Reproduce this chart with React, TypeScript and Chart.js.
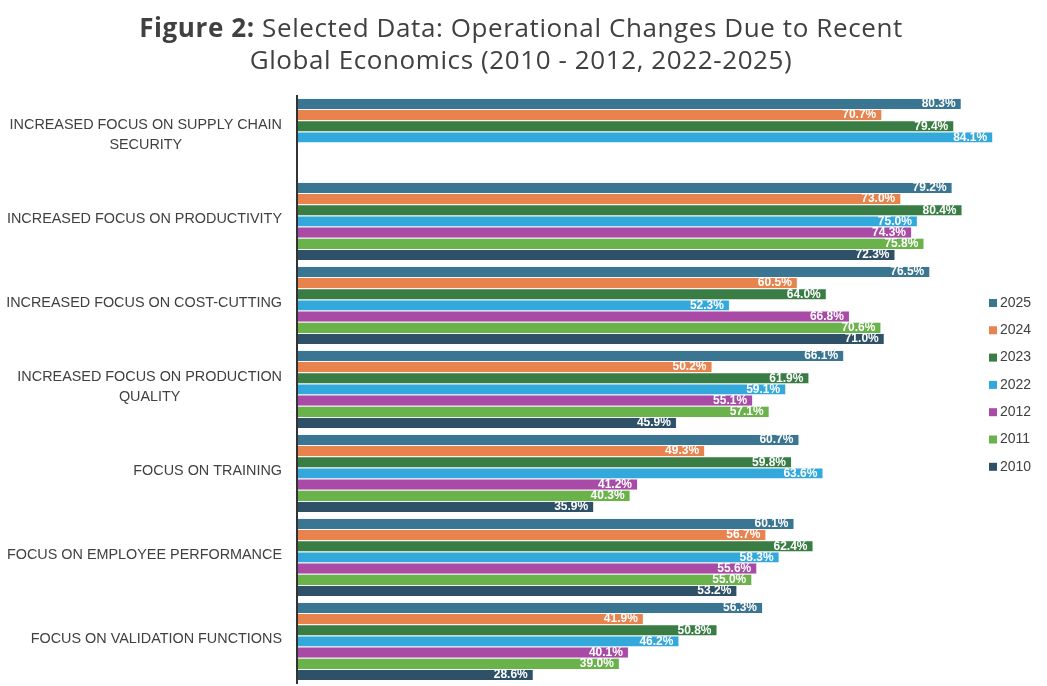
import React, { useEffect, useRef } from "react";
import { Chart, registerables } from "chart.js";

Chart.register(...registerables);

const categories: string[][] = [
  ["INCREASED FOCUS ON SUPPLY CHAIN", "SECURITY"],
  ["INCREASED FOCUS ON PRODUCTIVITY"],
  ["INCREASED FOCUS ON COST-CUTTING"],
  ["INCREASED FOCUS ON PRODUCTION", "QUALITY"],
  ["FOCUS ON TRAINING"],
  ["FOCUS ON EMPLOYEE PERFORMANCE"],
  ["FOCUS ON VALIDATION FUNCTIONS"],
];

const years = ["2025", "2024", "2023", "2022", "2012", "2011", "2010"];

const v2025 = [80.3, 79.2, 76.5, 66.1, 60.7, 60.1, 56.3];
const v2024 = [70.7, 73.0, 60.5, 50.2, 49.3, 56.7, 41.9];
const v2023 = [79.4, 80.4, 64.0, 61.9, 59.8, 62.4, 50.8];
const v2022 = [84.1, 75.0, 52.3, 59.1, 63.6, 58.3, 46.2];
const v2012 = [null, 74.3, 66.8, 55.1, 41.2, 55.6, 40.1];
const v2011 = [null, 75.8, 70.6, 57.1, 40.3, 55.0, 39.0];
const v2010 = [null, 72.3, 71.0, 45.9, 35.9, 53.2, 28.6];

const seriesValues = [v2025, v2024, v2023, v2022, v2012, v2011, v2010];

const colors = ["#3A7592", "#E9834E", "#3A7D44", "#33A8DB", "#A94BA6", "#6AB24A", "#2F5168"];

const FONT = "'Liberation Sans', Arial, sans-serif";
const TITLE_FONT = "'Open Sans', 'Liberation Sans', sans-serif";
const TEXT_COLOR = "#404040";

const categoryLabelPlugin = {
  id: "categoryLabels",
  afterDraw(chart: any) {
    const ctx = chart.ctx;
    const yScale = chart.scales.y;
    const right = chart.chartArea.left - 15;
    ctx.save();
    ctx.font = `14.4px ${FONT}`;
    ctx.fillStyle = TEXT_COLOR;
    ctx.textBaseline = "middle";
    ctx.textAlign = "center";
    const lh = 20;
    categories.forEach((lines, i) => {
      const yc = yScale.getPixelForValue(i) - 2;
      const maxW = Math.max(...lines.map((l) => ctx.measureText(l).width));
      const cx = right - maxW / 2;
      const y0 = yc - ((lines.length - 1) * lh) / 2;
      lines.forEach((l, j) => ctx.fillText(l, cx, y0 + j * lh));
    });
    ctx.restore();
  },
};

const dataLabelPlugin = {
  id: "dataLabels",
  afterDatasetsDraw(chart: any) {
    const ctx = chart.ctx;
    ctx.save();
    // axis line drawn over the bars' start
    const ca = chart.chartArea;
    ctx.strokeStyle = "#333333";
    ctx.lineWidth = 2;
    ctx.beginPath();
    ctx.moveTo(ca.left, ca.top);
    ctx.lineTo(ca.left, ca.bottom + 1);
    ctx.stroke();

    ctx.font = `bold 12px ${FONT}`;
    ctx.fillStyle = "#ffffff";
    ctx.textAlign = "right";
    ctx.textBaseline = "middle";
    chart.data.datasets.forEach((ds: any, di: number) => {
      const meta = chart.getDatasetMeta(di);
      meta.data.forEach((bar: any, i: number) => {
        const v = ds.data[i];
        if (v == null) return;
        ctx.fillText(v.toFixed(1) + "%", bar.x - 6, bar.y + 0.5);
      });
    });
    ctx.restore();
  },
};

const legendPlugin = {
  id: "customLegend",
  afterDraw(chart: any) {
    const ctx = chart.ctx;
    ctx.save();
    ctx.font = `14px ${FONT}`;
    ctx.textBaseline = "middle";
    ctx.textAlign = "left";
    const x = 989;
    const y0 = 303;
    const step = 27.3;
    chart.data.datasets.forEach((ds: any, i: number) => {
      const y = y0 + i * step;
      ctx.fillStyle = ds.backgroundColor;
      ctx.fillRect(x, y - 4, 8, 8);
      ctx.fillStyle = TEXT_COLOR;
      ctx.fillText(ds.label, x + 11, y);
    });
    ctx.restore();
  },
};

export default function App() {
  const canvasRef = useRef<HTMLCanvasElement | null>(null);

  useEffect(() => {
    if (!canvasRef.current) return;
    const chart = new Chart(canvasRef.current, {
      type: "bar",
      data: {
        labels: categories.map((c) => c.join(" ")),
        datasets: years.map((y, i) => ({
          label: y,
          data: seriesValues[i] as any,
          backgroundColor: colors[i],
          borderColor: "#F4F8FA",
          borderWidth: { top: 1, bottom: 0, left: 0, right: 1 },
          borderSkipped: false,
          categoryPercentage: 0.93,
          barPercentage: 1,
        })),
      },
      options: {
        indexAxis: "y",
        responsive: true,
        maintainAspectRatio: false,
        animation: false,
        layout: { padding: { top: 95, bottom: 3, left: 0, right: 5 } },
        plugins: {
          legend: { display: false },
          tooltip: { enabled: false },
          title: { display: false },
        },
        scales: {
          x: { display: false, min: 0, max: 90 },
          y: {
            display: true,
            ticks: { display: false },
            grid: { display: false },
            border: { display: false },
            afterFit(scale: any) {
              scale.width = 297;
            },
          },
        },
      },
      plugins: [categoryLabelPlugin, dataLabelPlugin, legendPlugin],
    });
    return () => chart.destroy();
  }, []);

  return (
    <div style={{ position: "absolute", left: 0, top: 0, width: 1047, height: 686, background: "#fff" }}>
      <canvas ref={canvasRef} />
      <div
        style={{
          position: "absolute",
          left: 0,
          top: 11,
          width: 1042,
          textAlign: "center",
          fontFamily: TITLE_FONT,
          fontSize: 26,
          letterSpacing: "0.6px",
          lineHeight: "32px",
          color: TEXT_COLOR,
        }}
      >
        <div>
          <b>Figure 2:</b> Selected Data: Operational Changes Due to Recent
        </div>
        <div>Global Economics (2010 - 2012, 2022-2025)</div>
      </div>
    </div>
  );
}
